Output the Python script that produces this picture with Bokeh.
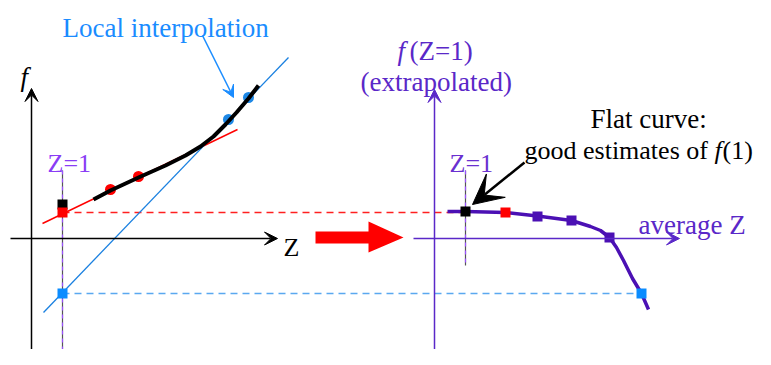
from bokeh.plotting import figure
from bokeh.models import Range1d, Arrow, VeeHead
from bokeh.core.properties import value
from bokeh.embed import file_html
from bokeh.resources import INLINE

# ---------------- data (diagram units = reference pixels, y downward) ----------------
# Left panel: f versus Z
left_curve_x = [93, 110, 138, 165, 185, 200, 213, 225, 236, 248, 258]
left_curve_y = [199, 190, 177, 165, 155, 146, 136, 124, 112, 98, 85]
red_pts_x = [110, 138]
red_pts_y = [189, 176]
blue_pts_x = [228, 248]
blue_pts_y = [119, 97]
red_fit_x = [42, 237]
red_fit_y = [223, 129]
blue_fit_x = [43, 288]
blue_fit_y = [312, 57]
z1_left_x = 62
z1_right_x = 465
extrap_red_y = 212
extrap_black_y = 204
extrap_blue_y = 293

# Right panel: f(Z=1) versus average Z
right_curve_x = [447, 465, 505, 537, 571, 590, 600, 609, 616, 623, 632, 641, 648]
right_curve_y = [211, 211, 212, 215.5, 220, 226, 230, 237, 247, 260, 278, 293, 309]
purple_sq_x = [537, 571, 609]
purple_sq_y = [216, 220, 237]
black_sq_x = 465
black_sq_y = 211
red_sq_x = 505
red_sq_y = 212
blue_sq_x = 641
blue_sq_y = 293

# Big transfer arrow outline
big_arrow_x = [315, 368, 368, 403, 368, 368, 315]
big_arrow_y = [231, 231, 221, 237, 252, 243, 243]

PURPLE = "#5a28c8"
CURVE_PURPLE = "#4b10b4"
BLUE = "#1a80e0"
SERIF = value("Liberation Serif")

p = figure(width=755, height=349, output_backend="svg", toolbar_location=None,
           x_range=Range1d(0, 755), y_range=Range1d(349, 0),
           min_border=0, outline_line_color=None)
p.axis.visible = False
p.grid.visible = False
p.background_fill_color = "white"

# ---- left axes ----
p.add_layout(Arrow(end=VeeHead(size=13, fill_color="black", line_color="black"),
                   x_start=31, y_start=353, x_end=31, y_end=88,
                   line_color="black", line_width=1.5))
p.add_layout(Arrow(end=VeeHead(size=13, fill_color="black", line_color="black"),
                   x_start=10, y_start=238, x_end=277, y_end=238,
                   line_color="black", line_width=1.5))

# ---- right axes ----
p.add_layout(Arrow(end=VeeHead(size=13, fill_color=PURPLE, line_color=PURPLE),
                   x_start=434, y_start=353, x_end=434, y_end=89,
                   line_color=PURPLE, line_width=1.5))
p.add_layout(Arrow(end=VeeHead(size=13, fill_color=PURPLE, line_color=PURPLE),
                   x_start=413, y_start=238, x_end=679, y_end=238,
                   line_color=PURPLE, line_width=1.5))

# ---- Z=1 vertical lines ----
for zx, y0, y1 in [(z1_left_x, 170, 365), (z1_right_x, 170, 265)]:
    p.line([zx, zx], [y0, y1], line_color="#555555", line_width=1.2)
    p.line([zx, zx], [y0, y1], line_color="#9a50ff", line_width=1.2, line_dash="4 4")

# ---- dashed projections ----
p.line([z1_left_x, 460], [extrap_red_y, extrap_red_y], line_color="#ff2020",
       line_width=1.3, line_dash="7 5")
p.line([z1_left_x, blue_sq_x], [extrap_blue_y, extrap_blue_y], line_color="#5aa8f0",
       line_width=1.3, line_dash="7 5")

# ---- fits ----
p.line(red_fit_x, red_fit_y, line_color="#ff0000", line_width=1.4)
p.line(blue_fit_x, blue_fit_y, line_color=BLUE, line_width=1.3)

# ---- left curve + points ----
p.scatter(red_pts_x, red_pts_y, size=11, marker="circle", fill_color="#ff0000", line_color=None)
p.scatter(blue_pts_x, blue_pts_y, size=11, marker="circle", fill_color="#1e88e5", line_color=None)
p.line(left_curve_x, left_curve_y, line_color="black", line_width=4, line_cap="butt",
       line_join="round")

# squares left
p.scatter([z1_left_x], [extrap_black_y], size=10, marker="square", fill_color="black", line_color=None)
p.scatter([z1_left_x], [extrap_red_y], size=10, marker="square", fill_color="#ff0000", line_color=None)
p.scatter([z1_left_x], [extrap_blue_y], size=10, marker="square", fill_color="#0a8cff", line_color=None)

# ---- right curve + squares ----
p.line(right_curve_x, right_curve_y, line_color=CURVE_PURPLE, line_width=3.5, line_join="round")
p.scatter(purple_sq_x, purple_sq_y, size=10, marker="square", fill_color=CURVE_PURPLE, line_color=None)
p.scatter([red_sq_x], [red_sq_y], size=10, marker="square", fill_color="#ff0000", line_color=None)
p.scatter([blue_sq_x], [blue_sq_y], size=10, marker="square", fill_color="#0a8cff", line_color=None)
p.scatter([black_sq_x], [black_sq_y], size=10, marker="square", fill_color="black", line_color=None)

# ---- big red arrow ----
p.patch(big_arrow_x, big_arrow_y, fill_color="#ff0000", line_color=None)

# ---- annotation arrows ----
p.add_layout(Arrow(end=VeeHead(size=12, fill_color="#1a8cff", line_color="#1a8cff"),
                   x_start=202, y_start=35, x_end=233, y_end=97,
                   line_color="#1a8cff", line_width=1.5))
p.add_layout(Arrow(end=VeeHead(size=30, fill_color="black", line_color="black"),
                   x_start=524, y_start=162, x_end=472, y_end=204,
                   line_color="black", line_width=2.5))

# ---- texts ----
def txt(x, y, s, color, size="27px", style="normal"):
    p.text([x], [y], text=[s], text_color=color, text_font=SERIF,
           text_font_size=size, text_font_style=style,
           text_align="left", text_baseline="alphabetic")

txt(62, 27, "Local interpolation", "#1a8cff")
txt(20, 76, "f", "black", style="italic")
txt(283, 247, "Z", "black", size="26px")
txt(47, 163, "Z=1", "#8a3cf5", size="26px")
txt(397, 50, "f", PURPLE, style="italic")
txt(409, 50, "(Z=1)", PURPLE)
txt(360, 81, "(extrapolated)", PURPLE)
txt(590, 118, "Flat curve:", "black")
txt(524, 150, "good estimates of", "black", size="26px")
txt(714, 150, "f", "black", size="26px", style="italic")
txt(722, 150, "(1)", "black", size="26px")
txt(638, 224, "average Z", PURPLE)
txt(449, 163, "Z=1", "#6a30d0", size="26px")

open("out.html", "w").write(file_html(p, INLINE))
